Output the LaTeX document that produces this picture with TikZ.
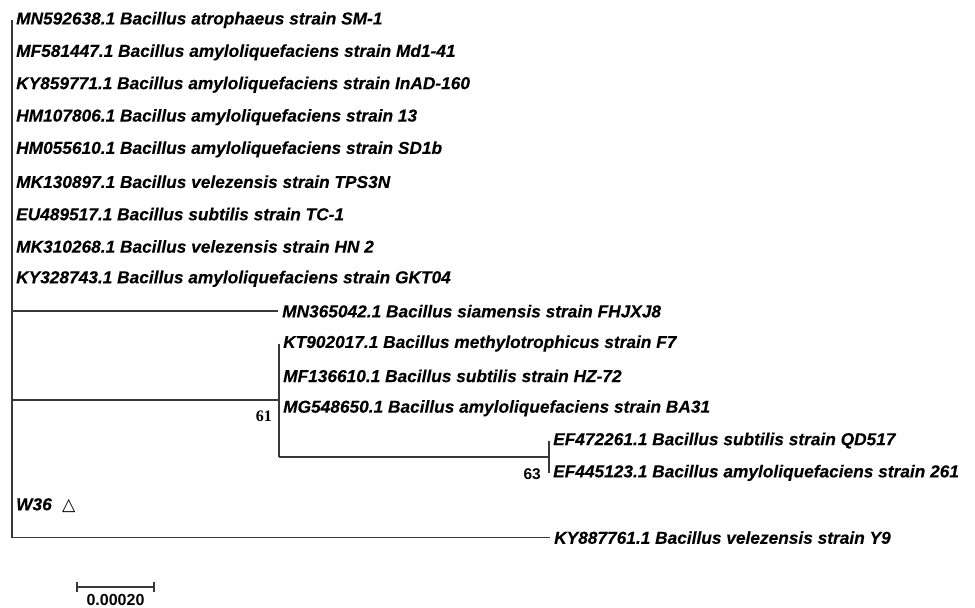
\documentclass[tikz,border=0pt]{standalone}
\usepackage{fontspec}
\setmainfont{Liberation Sans}
\newfontfamily\taxfont{Liberation Sans Italic}[FakeBold=0.15]
\newfontfamily\trisym{DejaVu Sans}
\newfontfamily\bootserif{Liberation Serif}
\begin{document}
\begin{tikzpicture}[x=1pt,y=-1pt,
  branch/.style={draw=black!78, line width=1.7pt},
  taxon/.style={anchor=west, inner xsep=4pt, inner ysep=0pt, font=\fontsize{17.3}{18}\selectfont\taxfont\bfseries},
  boot/.style={anchor=east, inner sep=0pt, font=\fontsize{15.5}{15}\selectfont\bfseries}]
\useasboundingbox (0,0) rectangle (975,608);
\fill[white] (0,0) rectangle (975,608);
% root
\coordinate (rtop) at (12,20);
\coordinate (rbot) at (12,537.6);
\draw[branch] (rtop) -- (rbot);
% leaves on the root
\node[taxon] (t0) at (12,20)    {MN592638.1 Bacillus atrophaeus strain SM-1};
\node[taxon] (t1) at (12,52.4)  {MF581447.1 Bacillus amyloliquefaciens strain Md1-41};
\node[taxon] (t2) at (12,84.7)  {KY859771.1 Bacillus amyloliquefaciens strain InAD-160};
\node[taxon] (t3) at (12,117.1) {HM107806.1 Bacillus amyloliquefaciens strain 13};
\node[taxon] (t4) at (12,149.4) {HM055610.1 Bacillus amyloliquefaciens strain SD1b};
\node[taxon] (t5) at (12,181.8) {MK130897.1 Bacillus velezensis strain TPS3N};
\node[taxon] (t6) at (12,214.1) {EU489517.1 Bacillus subtilis strain TC-1};
\node[taxon] (t7) at (12,246.5) {MK310268.1 Bacillus velezensis strain HN 2};
\node[taxon] (t8) at (12,278.8) {KY328743.1 Bacillus amyloliquefaciens strain GKT04};
% MN365042
\coordinate (n9) at (12,311.2);
\node[taxon] (t9) at (278,311.2) {MN365042.1 Bacillus siamensis strain FHJXJ8};
\draw[branch] (n9) -- (t9.west);
% clade 61
\coordinate (b61) at (12,400.1);
\coordinate (c61) at (279,400.1);
\coordinate (c61top) at (279,343.5);
\coordinate (c61bot) at (279,456.7);
\draw[branch] (b61) -- (c61);
\draw[branch] (c61top) -- (c61bot);
\node[taxon] (t10) at (279,343.5) {KT902017.1 Bacillus methylotrophicus strain F7};
\node[taxon] (t11) at (279,375.9) {MF136610.1 Bacillus subtilis strain HZ-72};
\node[taxon] (t12) at (279,408.2) {MG548650.1 Bacillus amyloliquefaciens strain BA31};
\node[boot, font=\fontsize{16}{16}\selectfont\bootserif\bfseries] (l61) at (272,416) {61};
% clade 63
\coordinate (c63) at (549,456.7);
\coordinate (c63top) at (549,440.6);
\coordinate (c63bot) at (549,472.9);
\draw[branch] (c61bot) -- (c63);
\draw[branch] (c63top) -- (c63bot);
\node[taxon] (t13) at (549,440.6) {EF472261.1 Bacillus subtilis strain QD517};
\node[taxon] (t14) at (549,472.9) {EF445123.1 Bacillus amyloliquefaciens strain 261};
\node[boot] (l63) at (541,474) {63};
% W36
\node[taxon] (t15) at (12,505.3) {W36\hspace{0.6em}{\mdseries\upshape\trisym △}};
% KY887761
\node[taxon] (t16) at (550,537.6) {KY887761.1 Bacillus velezensis strain Y9};
\draw[branch] (rbot) -- (t16.west);
% scale bar
\coordinate (s0) at (77,587);
\coordinate (s1) at (154,587);
\draw[branch, line width=1.4pt] (s0) -- (s1);
\draw[branch, line width=1.4pt] ([yshift=-5pt]s0) -- ([yshift=5pt]s0);
\draw[branch, line width=1.4pt] ([yshift=-5pt]s1) -- ([yshift=5pt]s1);
\node[inner sep=0pt, font=\fontsize{16}{16}\selectfont\bfseries] (sl) at (115.5,600) {0.00020};
\end{tikzpicture}
\end{document}
